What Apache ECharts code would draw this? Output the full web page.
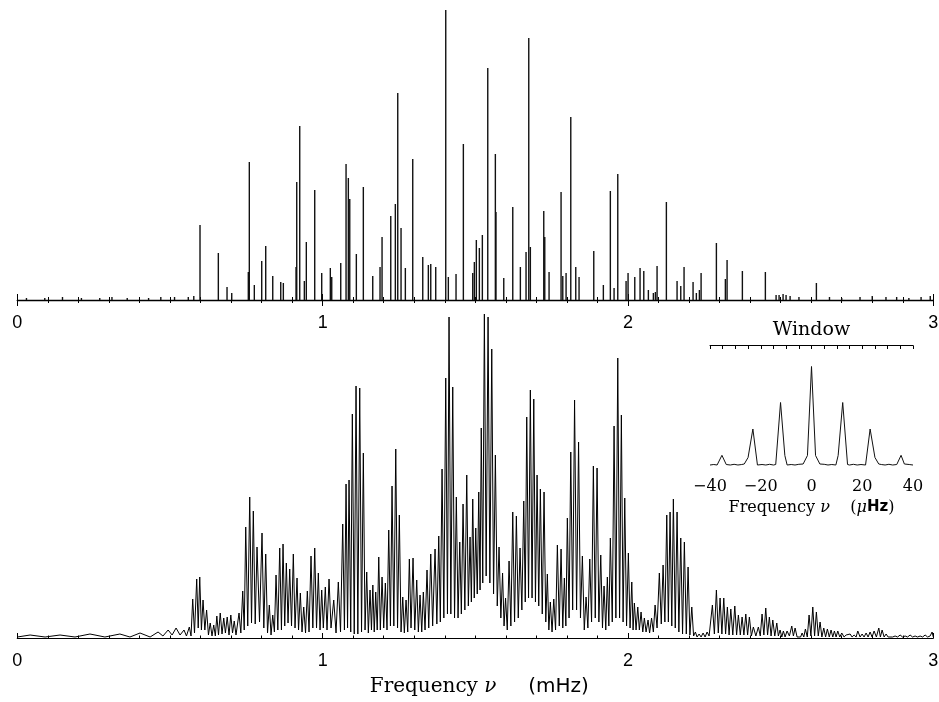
<!DOCTYPE html>
<html><head><meta charset="utf-8">
<script src="https://cdn.jsdelivr.net/npm/echarts@6.0.0/dist/echarts.min.js"></script>
<style>html,body{margin:0;padding:0;background:#fff}#chart{width:939px;height:702px}</style>
</head><body><div id="chart"></div>
<script>
// ---- data (frequencies in mHz / μHz, power in arbitrary units) ----
const mHzTickLabels = ['0', '1', '2', '3'];
const windowTickLabels = ['\u221240', '\u221220', '0', '20', '40'];

// Upper panel: resolved mode peaks (frequency mHz, power)
const upperFreq = [0.03,0.09,0.148,0.21,0.27,0.31,0.36,0.43,0.47,0.515,0.56,0.578,
0.5984,0.6584,0.6869,0.7023,0.7566,0.7599,0.7763,0.8005,0.8136,0.8366,0.8628,0.8713,0.9129,0.9152,0.925,0.9401,0.9466,0.9741,0.997,1.0252,1.0298,1.0593,1.0767,1.0842,1.0888,1.1104,1.1333,1.1641,1.188,1.1946,1.2231,1.2381,1.246,1.2568,1.2709,1.2951,1.3279,1.3462,1.3541,1.3704,1.4032,1.4117,1.4369,1.4609,1.4916,1.4969,1.5034,1.5133,1.5231,1.5408,1.5657,1.5677,1.5932,1.6227,1.6476,1.6662,1.6751,1.6803,1.7242,1.7275,1.7416,1.7809,1.7865,1.7973,1.8127,1.829,1.8398,1.888,1.9194,1.9423,1.9545,1.9666,1.9938,2.0003,2.0223,2.0396,2.0518,2.0668,2.0832,2.0898,2.0953,2.1258,2.1608,2.1729,2.1837,2.2132,2.224,2.2339,2.2395,2.2896,2.319,2.3246,2.3747,2.45,2.4851,2.4949,2.508,2.5178,2.531,2.56,2.6171,2.66,2.70,2.76,2.80,2.845,2.88,2.92,2.96,2.99];
const upperPow = [2,2,3,2,2,3,2,2,3,3,3,4,
75,47,13,7,28,138,15,39,54,24,18,17,33,118,174,19,58,110,27,32,23,37,136,122,101,46,113,24,33,63,84,96,207,72,32,141,43,35,36,33,290,23,26,156,27,38,60,52,65,232,146,88,22,93,33,48,262,53,89,63,28,108,24,27,183,33,23,49,15,109,12,126,19,27,23,32,29,10,7,8,34,98,19,14,33,18,7,10,27,57,21,40,29,28,5,5,6,5,4,3,17,3,2,3,4,3,3,2,3,4];

// Lower panel: single-site spectrum with daily-alias fringes [mHz, power]
const lowerSpectrum = [[0.000,1],[0.042,3],[0.091,1],[0.140,3],[0.189,1],[0.238,4],[0.287,1],[0.336,4],[0.369,1],[0.402,5],[0.435,1],[0.461,6],[0.477,2],[0.494,8],[0.507,3],[0.520,10],[0.533,3],[0.546,8],[0.554,2],
[0.5634,11],[0.569,2],[0.5745,39],[0.5804,5],[0.5876,59],[0.5925,10],[0.5975,61],[0.603,8],[0.6083,38],[0.6142,8],[0.620,28],[0.626,3],[0.6318,15],[0.6377,2],[0.6433,13],[0.6486,2],[0.6535,22],[0.659,3],[0.6646,25],[0.6705,4],[0.6761,20],[0.6816,5],[0.6875,21],[0.6934,3],[0.6993,23],[0.7049,5],[0.7105,17],[0.7163,3],[0.7262,25],[0.7321,5],[0.7383,47],[0.7432,8],[0.7481,111],[0.7547,12],[0.7612,141],[0.7671,15],[0.773,127],[0.7792,14],[0.7851,91],[0.7933,16],[0.8015,105],[0.8074,10],[0.8136,84],[0.8195,5],[0.8254,33],[0.831,3],[0.8366,23],[0.8421,6],[0.8474,63],[0.8533,8],[0.8595,90],[0.8651,8],[0.8703,94],[0.8759,12],[0.8811,75],[0.8867,15],[0.8922,69],[0.8981,12],[0.904,84],[0.9096,10],[0.9162,60],[0.9211,8],[0.927,45],[0.9325,6],[0.9381,31],[0.944,5],[0.9499,47],[0.9555,6],[0.962,82],[0.9679,10],[0.9741,90],[0.98,10],[0.9859,65],[0.9915,8],[0.997,48],[1.0023,10],[1.0088,51],[1.0144,8],[1.021,59],[1.0275,10],[1.0364,38],[1.0439,5],[1.0514,56],[1.0586,6],[1.0658,114],[1.0714,8],[1.0767,154],[1.0816,10],[1.0865,158],[1.092,6],[1.0973,224],[1.1035,4],[1.1094,252],[1.1153,4],[1.1215,250],[1.1274,6],[1.1333,185],[1.1389,8],[1.1444,66],[1.1497,5],[1.1553,48],[1.1599,8],[1.1644,53],[1.169,6],[1.1739,46],[1.1788,8],[1.1838,81],[1.189,8],[1.1946,61],[1.2001,10],[1.2054,55],[1.2109,8],[1.2165,108],[1.2221,12],[1.2273,152],[1.2332,12],[1.2395,189],[1.2453,10],[1.2512,123],[1.2568,6],[1.2624,41],[1.2676,5],[1.2732,38],[1.2787,6],[1.284,79],[1.2895,10],[1.2961,80],[1.3017,8],[1.3082,58],[1.3135,6],[1.319,43],[1.3246,6],[1.3298,46],[1.3354,8],[1.3419,68],[1.3475,10],[1.3541,84],[1.3603,12],[1.3682,89],[1.3741,14],[1.3803,102],[1.3855,16],[1.3911,169],[1.397,20],[1.4032,260],[1.4088,24],[1.414,321],[1.4199,24],[1.4261,251],[1.432,20],[1.4379,141],[1.4435,20],[1.4491,96],[1.4543,24],[1.4599,134],[1.4658,28],[1.472,163],[1.4772,32],[1.4828,101],[1.4871,36],[1.4916,139],[1.4966,40],[1.5015,110],[1.5064,44],[1.5113,146],[1.5156,48],[1.5195,210],[1.5244,55],[1.5297,324],[1.5356,62],[1.5418,321],[1.5477,55],[1.5539,289],[1.5598,44],[1.5657,183],[1.5719,32],[1.5778,91],[1.5837,20],[1.5893,65],[1.5942,12],[1.5991,40],[1.6047,8],[1.6106,77],[1.6165,12],[1.6227,126],[1.6286,16],[1.6345,122],[1.6407,20],[1.6466,90],[1.6525,28],[1.6587,137],[1.6636,36],[1.6685,221],[1.6744,40],[1.6803,248],[1.6859,40],[1.6915,239],[1.697,36],[1.7023,163],[1.7078,32],[1.7131,149],[1.7193,24],[1.7252,146],[1.7308,16],[1.736,64],[1.7409,8],[1.7458,36],[1.7514,6],[1.757,39],[1.7629,8],[1.7688,93],[1.775,12],[1.7809,89],[1.7865,10],[1.7917,60],[1.7966,12],[1.8015,120],[1.8071,20],[1.8127,186],[1.8189,28],[1.8251,238],[1.8317,28],[1.8382,196],[1.8444,20],[1.8507,82],[1.8569,8],[1.8628,41],[1.8687,10],[1.8749,79],[1.8808,16],[1.8867,172],[1.8929,20],[1.8988,170],[1.9047,16],[1.9109,83],[1.9165,10],[1.9217,52],[1.9273,8],[1.9325,61],[1.9374,12],[1.9423,100],[1.9486,16],[1.9545,212],[1.9604,20],[1.9666,280],[1.9725,20],[1.9784,223],[1.984,16],[1.9895,140],[1.9954,12],[2.0013,85],[2.0069,10],[2.0125,56],[2.0167,8],[2.021,35],[2.0265,8],[2.0321,31],[2.0373,8],[2.0429,26],[2.0485,6],[2.0537,20],[2.0593,6],[2.0658,18],[2.0708,5],[2.0773,20],[2.0832,6],[2.0888,33],[2.0953,10],[2.1028,65],[2.1091,14],[2.115,73],[2.1209,16],[2.1271,123],[2.1323,16],[2.1379,126],[2.1435,12],[2.1487,139],[2.1549,10],[2.1608,126],[2.1667,6],[2.1729,100],[2.1788,4],[2.1847,96],[2.191,4],[2.1969,71],[2.2028,3],[2.209,31],[2.2149,2],[2.2208,6],[2.2263,1],[2.2329,4],[2.2395,1],[2.246,5],[2.2526,1],[2.2591,6],[2.2657,2],[2.2765,33],[2.283,4],[2.2896,48],[2.2958,5],[2.3017,40],[2.3076,4],[2.3138,40],[2.3197,4],[2.3256,31],[2.3312,3],[2.3368,29],[2.3433,3],[2.3499,32],[2.3558,3],[2.3616,23],[2.3679,3],[2.3738,21],[2.3797,3],[2.3859,24],[2.3918,3],[2.3976,21],[2.4042,2],[2.4107,11],[2.4189,2],[2.4271,11],[2.4333,2],[2.4392,24],[2.4451,3],[2.4513,30],[2.4572,3],[2.4631,21],[2.4687,2],[2.4743,18],[2.4808,2],[2.4874,15],[2.4926,2],[2.4982,8],[2.5038,1],[2.509,7],[2.5146,1],[2.5211,7],[2.5287,2],[2.5365,12],[2.5418,2],[2.5474,10],[2.5539,1],[2.5604,3],[2.5654,1],[2.5703,5],[2.5759,1],[2.5811,9],[2.5873,1],[2.5932,23],[2.5991,2],[2.6053,31],[2.6112,2],[2.6171,26],[2.6233,2],[2.6292,16],[2.6351,1],[2.6413,10],[2.6472,1],[2.6531,9],[2.6593,1],[2.6652,8],[2.6708,1],[2.6761,7],[2.6816,1],[2.6872,7],[2.6937,1],[2.7003,5],[2.7078,1],[2.7144,3],[2.7209,1],[2.7275,4],[2.734,1],[2.7406,3],[2.7472,1],[2.7527,7],[2.7602,1],[2.7668,4],[2.7733,1],[2.7799,5],[2.7864,1],[2.793,6],[2.7995,1],[2.8061,7],[2.8136,1],[2.8215,10],[2.8267,1],[2.8323,8],[2.8389,1],[2.8454,4],[2.852,1],[2.8585,3],[2.8667,1],[2.8749,2],[2.8831,1],[2.8913,3],[2.8995,1],[2.9077,2],[2.9159,1],[2.924,3],[2.9322,1],[2.9404,2],[2.9486,1],[2.9568,2],[2.965,1],[2.9732,3],[2.9814,1],[2.9895,2],[2.9961,6],[3.0,1]];

// Inset: spectral window [μHz, power]
const windowCurve = [[-40,0.5],[-38.5,1],[-37.2,0.5],[-36.6,1.5],[-35.3,10.2],[-33.6,1],[-32,0.5],[-30.5,1.2],[-29,0.5],[-27.5,1],[-26.5,1.5],[-25,8],[-23.1,36.5],[-21.3,0.5],[-19.5,1],[-18,0.5],[-16.5,1.2],[-15,0.5],[-14.1,1],[-12.2,63],[-10.5,10],[-9.6,0.5],[-8,1],[-6.5,0.5],[-5,1.2],[-3.3,1.5],[-1.6,10],[0,99],[1.6,10],[3.3,1.5],[5,1.2],[6.5,0.5],[8,1],[9.6,0.5],[10.5,10],[12.3,63],[14.2,1],[15,0.5],[16.5,1.2],[18,0.5],[19.5,1],[21.3,0.5],[23.1,36.5],[25,8],[26.5,1.5],[27.5,1],[29,0.5],[30.5,1.2],[32,0.5],[33.6,1],[35.3,10.2],[36.6,1.5],[37.2,0.5],[38.5,1],[40,0.5]];

// ---- chart ----
const black = '#000';
const upperData = upperFreq.map((f, i) => [f, upperPow[i]]);
const serif = 'DejaVu Serif';
const sans = 'DejaVu Sans';
const mainLabel = {margin: 14, fontSize: 18, fontFamily: 'Liberation Sans', color: black,
  formatter: v => mHzTickLabels[Math.round(v)]};

const chart = echarts.init(document.getElementById('chart'), null, {renderer: 'canvas'});
chart.setOption({
  animation: false,
  backgroundColor: '#fff',
  grid: [
    {left: 17.3, width: 916, top: 0, height: 300, outerBoundsMode: 'none'},
    {left: 17.3, width: 916, top: 308, height: 330, outerBoundsMode: 'none'},
    {left: 710, width: 203, top: 345.5, height: 120, outerBoundsMode: 'none'}
  ],
  xAxis: [
    {gridIndex: 0, type: 'value', position: 'bottom', min: 0, max: 3, interval: 1,
      axisLine: {show: true, lineStyle: {color: black, width: 1.4}},
      axisTick: {show: true, length: 6, lineStyle: {color: black}},
      minorTick: {show: true, splitNumber: 10, length: 3, lineStyle: {color: black}},
      splitLine: {show: false}, minorSplitLine: {show: false},
      axisLabel: mainLabel},
    {gridIndex: 0, type: 'value', position: 'bottom', offset: 0, min: 0, max: 3, interval: 1,
      axisLine: {show: false},
      axisTick: {show: true, inside: true, length: 6, lineStyle: {color: black}},
      minorTick: {show: true, splitNumber: 10, length: 3, lineStyle: {color: black}},
      splitLine: {show: false}, minorSplitLine: {show: false},
      axisLabel: {show: false}},
    {gridIndex: 1, type: 'value', position: 'bottom', min: 0, max: 3, interval: 1,
      axisLine: {show: true, lineStyle: {color: black, width: 1.2}},
      axisTick: {show: true, inside: true, length: 5, lineStyle: {color: black}},
      minorTick: {show: true, splitNumber: 10, length: 2.5, lineStyle: {color: black}},
      splitLine: {show: false}, minorSplitLine: {show: false},
      axisLabel: mainLabel,
      name: '{s|Frequency }{i|\u03bd}{s|     }{t|(mHz)}',
      nameLocation: 'middle', nameGap: 38,
      nameTextStyle: {color: black, padding: [0, 0, 0, 8], rich: {
        s: {fontFamily: serif, fontSize: 20, lineHeight: 22, color: black},
        i: {fontFamily: serif, fontStyle: 'italic', fontSize: 20, lineHeight: 22, color: black},
        t: {fontFamily: sans, fontSize: 20, lineHeight: 22, color: black}}}},
    {gridIndex: 2, type: 'value', position: 'bottom', min: -40, max: 40, interval: 20,
      axisLine: {show: false}, axisTick: {show: false},
      splitLine: {show: false},
      axisLabel: {margin: 13.5, fontSize: 16, fontFamily: serif, color: black,
        formatter: v => windowTickLabels[Math.round((v + 40) / 20)]},
      name: '{s|Frequency }{i|\u03bd}{s|    (}{i|\u03bc}{t|Hz}{s|)}',
      nameLocation: 'middle', nameGap: 32,
      nameTextStyle: {color: black, rich: {
        s: {fontFamily: serif, fontSize: 16, lineHeight: 20, color: black},
        i: {fontFamily: serif, fontStyle: 'italic', fontSize: 16, lineHeight: 20, color: black},
        t: {fontFamily: sans, fontWeight: 'bold', fontSize: 15, lineHeight: 20, color: black}}}},
    {gridIndex: 2, type: 'value', position: 'top', min: -40, max: 40, interval: 5,
      axisLine: {show: true, lineStyle: {color: black, width: 1}},
      axisTick: {show: true, inside: true, length: 3.5, lineStyle: {color: black}},
      splitLine: {show: false},
      axisLabel: {show: false},
      name: 'Window', nameLocation: 'middle', nameGap: 4,
      nameTextStyle: {fontFamily: serif, fontSize: 19, lineHeight: 22, color: black}}
  ],
  yAxis: [
    {gridIndex: 0, type: 'value', min: 0, max: 300, show: false},
    {gridIndex: 1, type: 'value', min: 0, max: 330, show: false},
    {gridIndex: 2, type: 'value', min: 0, max: 120, show: false}
  ],
  series: [
    {type: 'bar', xAxisIndex: 0, yAxisIndex: 0, data: upperData, barWidth: 1.4,
      itemStyle: {color: '#111'}, silent: true},
    {type: 'line', xAxisIndex: 2, yAxisIndex: 1, data: lowerSpectrum, symbol: 'none',
      lineStyle: {color: '#000', width: 1}, silent: true},
    {type: 'line', xAxisIndex: 3, yAxisIndex: 2, data: windowCurve, symbol: 'none',
      lineStyle: {color: '#111', width: 1}, silent: true}
  ]
});
</script>
</body></html>
